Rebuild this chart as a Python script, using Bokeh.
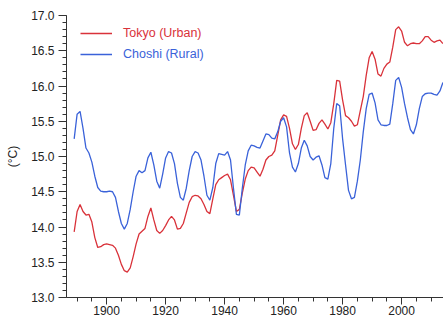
from bokeh.plotting import figure
from bokeh.models import Legend, LegendItem, SingleIntervalTicker, PrintfTickFormatter, Range1d
from bokeh.embed import file_html
from bokeh.resources import INLINE

years = list(range(1889, 2015))

tokyo = [13.93, 14.22, 14.32, 14.22, 14.17, 14.18, 14.07, 13.85, 13.71, 13.72,
         13.75, 13.76, 13.75, 13.74, 13.70, 13.60, 13.47, 13.38, 13.36, 13.42,
         13.58, 13.76, 13.90, 13.94, 13.98, 14.15, 14.27, 14.10, 13.95, 13.91,
         13.95, 14.02, 14.10, 14.15, 14.10, 13.97, 13.98, 14.05, 14.20, 14.35,
         14.43, 14.45, 14.44, 14.40, 14.32, 14.22, 14.19, 14.40, 14.60, 14.67,
         14.70, 14.73, 14.75, 14.67, 14.45, 14.22, 14.25, 14.48, 14.68, 14.80,
         14.85, 14.84, 14.78, 14.72, 14.82, 14.95, 15.00, 15.02, 15.08, 15.30,
         15.52, 15.59, 15.57, 15.40, 15.18, 15.10, 15.17, 15.40, 15.58, 15.62,
         15.50, 15.37, 15.38, 15.47, 15.52, 15.46, 15.39, 15.48, 15.75, 16.08,
         16.07, 15.80, 15.58, 15.55, 15.50, 15.43, 15.45, 15.65, 15.85, 16.15,
         16.40, 16.49, 16.38, 16.17, 16.14, 16.25, 16.31, 16.34, 16.55, 16.80,
         16.84, 16.78, 16.62, 16.57, 16.60, 16.61, 16.60, 16.60, 16.64, 16.70,
         16.70, 16.65, 16.62, 16.64, 16.65, 16.60]

choshi = [15.25, 15.60, 15.64, 15.40, 15.12, 15.05, 14.92, 14.72, 14.56, 14.51,
          14.50, 14.50, 14.51, 14.50, 14.42, 14.22, 14.05, 13.97, 14.05, 14.25,
          14.50, 14.72, 14.80, 14.77, 14.80, 14.98, 15.06, 14.88, 14.65, 14.55,
          14.75, 14.98, 15.07, 15.05, 14.90, 14.62, 14.42, 14.38, 14.55, 14.80,
          15.00, 15.07, 15.05, 14.95, 14.72, 14.45, 14.38, 14.56, 14.90, 15.04,
          15.03, 15.02, 15.07, 14.95, 14.55, 14.18, 14.17, 14.55, 14.88, 15.08,
          15.16, 15.15, 15.13, 15.12, 15.22, 15.32, 15.31, 15.26, 15.25, 15.35,
          15.50, 15.55, 15.42, 15.05, 14.85, 14.78, 14.90, 15.12, 15.23, 15.15,
          15.00, 14.95, 14.99, 15.01, 14.88, 14.70, 14.68, 14.90, 15.40, 15.75,
          15.72, 15.25, 14.88, 14.52, 14.40, 14.42, 14.65, 14.95, 15.35, 15.68,
          15.88, 15.90, 15.76, 15.52, 15.45, 15.44, 15.44, 15.46, 15.75, 16.08,
          16.12, 15.98, 15.75, 15.55, 15.38, 15.32, 15.45, 15.68, 15.85, 15.89,
          15.90, 15.90, 15.88, 15.87, 15.93, 16.05]

labels = ["Tokyo (Urban)", "Choshi (Rural)"]
y_label = "(°C)"

RED = "#d9323a"
BLUE = "#3a62d9"
FONT = "Liberation Sans"

p = figure(width=443, height=321, output_backend="svg", toolbar_location=None,
           x_range=Range1d(1886.4, 2014.2), y_range=Range1d(13.0, 17.0),
           min_border_left=66, min_border_right=0, min_border_top=15,
           min_border_bottom=24)
p.outline_line_color = None
p.xgrid.grid_line_color = None
p.ygrid.grid_line_color = None
p.background_fill_color = "white"
p.border_fill_color = "white"

r1 = p.line(years, tokyo, line_color=RED, line_width=1.3)
r2 = p.line(years, choshi, line_color=BLUE, line_width=1.3)

xa = p.xaxis[0]
xa.ticker = SingleIntervalTicker(interval=20, num_minor_ticks=4)
xa.major_tick_out = 7
xa.major_tick_in = 0
xa.minor_tick_out = 4
xa.minor_tick_in = 0
xa.major_label_standoff = 1
xa.major_label_text_font = FONT
xa.major_label_text_font_size = "12px"
xa.major_label_text_color = "#222222"
xa.axis_line_color = "#333333"
xa.major_tick_line_color = "#333333"
xa.minor_tick_line_color = "#333333"

ya = p.yaxis[0]
ya.ticker = SingleIntervalTicker(interval=0.5, num_minor_ticks=5)
ya.formatter = PrintfTickFormatter(format="%.1f")
ya.major_tick_out = 8
ya.major_tick_in = 0
ya.minor_tick_out = 4
ya.minor_tick_in = 0
ya.major_label_standoff = 4
ya.major_label_text_font = FONT
ya.major_label_text_font_size = "12px"
ya.major_label_text_color = "#222222"
ya.axis_line_color = "#333333"
ya.major_tick_line_color = "#333333"
ya.minor_tick_line_color = "#333333"
ya.axis_label = y_label
ya.axis_label_text_font = FONT
ya.axis_label_text_font_size = "12px"
ya.axis_label_text_font_style = "normal"
ya.axis_label_text_color = "#222222"
ya.axis_label_standoff = 8

def make_legend(label, renderer, color, loc):
    leg = Legend(items=[LegendItem(label=label, renderers=[renderer])],
                 location=loc, padding=0, margin=0, spacing=0,
                 glyph_width=32, glyph_height=16, label_height=16,
                 label_standoff=11, border_line_color=None,
                 background_fill_alpha=0,
                 label_text_color=color, label_text_font=FONT,
                 label_text_font_size="12.5px")
    p.add_layout(leg, "center")

make_legend(labels[0], r1, RED, (14, 256))
make_legend(labels[1], r2, BLUE, (14, 235))

open("out.html", "w").write(file_html(p, INLINE))
